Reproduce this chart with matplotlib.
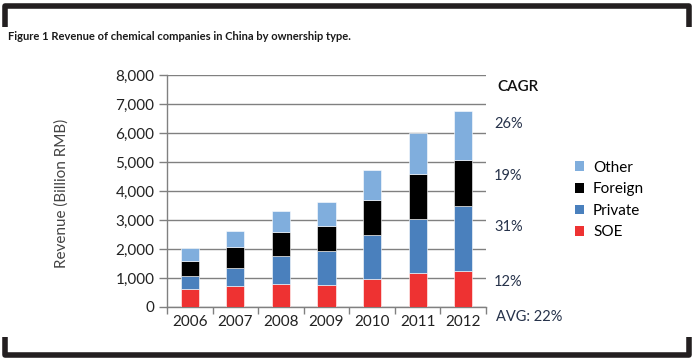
import numpy as np
import matplotlib.pyplot as plt
from matplotlib.lines import Line2D
from matplotlib.patches import Patch

W, H = 695, 362

years = ['2006', '2007', '2008', '2009', '2010', '2011', '2012']
soe = [610, 710, 800, 750, 960, 1160, 1240]
private = [460, 650, 950, 1170, 1520, 1870, 2240]
foreign = [530, 710, 850, 880, 1220, 1570, 1580]
other = [420, 560, 710, 810, 1030, 1400, 1690]

series_names = ['SOE', 'Private', 'Foreign', 'Other']
series_colors = ['#ee3232', '#4a80bd', '#000000', '#80aedd']

cagr_labels = ['26%', '19%', '31%', '12%']
cagr_y = [124, 176, 227, 282]  # pixel rows of the CAGR notes
avg_label = 'AVG: 22%'

FONT = ['Lato', 'DejaVu Sans']
plt.rcParams['font.family'] = FONT


def px(x, y):
    '''Pixel position (from top left) to figure fraction.'''
    return x / W, 1 - y / H


fig = plt.figure(figsize=(W / 100, H / 100), dpi=100)
fig.patch.set_facecolor('white')

ax = fig.add_axes([167 / W, 55 / H, (486 - 167) / W, 232 / H])

x = np.arange(len(years))
bottom = np.zeros(len(years))
for vals, color in zip([soe, private, foreign, other], series_colors):
    ax.bar(x, vals, width=0.4, bottom=bottom, color=color,
           edgecolor='#ffffff', linewidth=0.4, zorder=3)
    bottom += np.array(vals)

ax.set_xlim(-0.5, len(years) - 0.5)
ax.set_ylim(0, 8000)
ax.set_yticks(np.arange(0, 8001, 1000))
ax.set_yticklabels([f'{v:,}' for v in range(0, 8001, 1000)], fontsize=11, color='#222222')
ax.set_xticks(x)
ax.set_xticklabels(years, fontsize=11, color='#222222')
ax.set_xticks(np.arange(-0.5, len(years), 1), minor=True)
ax.tick_params(axis='x', which='major', length=0, pad=6)
ax.tick_params(axis='x', which='minor', length=5, color='#808080', width=1)
ax.tick_params(axis='y', length=6, color='#808080', width=1, pad=3)

ax.grid(axis='y', color='#808080', linewidth=1, zorder=0)
for side in ['top', 'right']:
    ax.spines[side].set_visible(False)
for side in ['left', 'bottom']:
    ax.spines[side].set_color('#808080')
    ax.spines[side].set_linewidth(1)

fig.text(*px(62, 193), 'Revenue (Billion RMB)', rotation=90, ha='center', va='center',
         fontsize=11, color='#444444')

# CAGR column
fig.text(*px(497, 87), 'CAGR', ha='left', va='center', fontsize=11, color='#111111',
         fontweight='semibold')
for lab, yy in zip(cagr_labels, cagr_y):
    fig.text(*px(494, yy), lab, ha='left', va='center', fontsize=10.5, color='#26324a')
fig.text(*px(496, 317), avg_label, ha='left', va='center', fontsize=10.5, color='#26324a')

# legend, top entry first
handles = [Patch(facecolor=c, edgecolor='none') for c in series_colors][::-1]
fig.legend(handles, series_names[::-1], loc='center left', bbox_to_anchor=px(561, 200),
           frameon=False, fontsize=11, handlelength=0.6, handleheight=0.6,
           handletextpad=0.6, labelspacing=0.5)

# title
fig.text(*px(8, 36), 'Figure 1 Revenue of chemical companies in China by ownership type.',
         ha='left', va='center', fontsize=8, fontweight='bold', color='#1a1a1a')

# bracket frame
lw = 4
frame = dict(color='#231f20', linewidth=lw, solid_capstyle='butt', transform=fig.transFigure)
fig.add_artist(Line2D(*zip(px(5, 27), px(5, 6), px(689, 6), px(689, 27)), **frame))
fig.add_artist(Line2D(*zip(px(5, 337), px(5, 355), px(689, 355), px(689, 337)), **frame))

fig.savefig('out.png', dpi=100)
